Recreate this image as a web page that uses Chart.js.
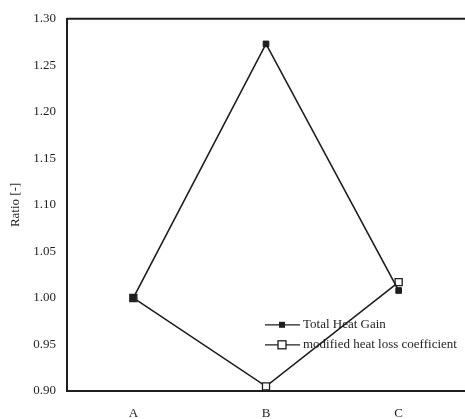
<!DOCTYPE html>
<html><head><meta charset="utf-8">
<script src="https://cdn.jsdelivr.net/npm/chart.js@4/dist/chart.umd.min.js"></script>
<style>html,body{margin:0;padding:0;background:#fff}canvas{display:block}</style>
</head><body>
<canvas id="c" width="465" height="419"></canvas>
<script>
const categories = ["A", "B", "C"];
const totalHeatGain = [1.00, 1.273, 1.008];
const modifiedHeatLoss = [1.00, 0.905, 1.017];
const yTicks = [0.90, 0.95, 1.00, 1.05, 1.10, 1.15, 1.20, 1.25, 1.30];
const seriesLabels = ["Total Heat Gain", "modified heat loss coefficient"];

const FONT = "'Liberation Serif', 'DejaVu Serif', serif";
const INK = "#1e1e1e";

const frame = {
  id: 'frame',
  afterDraw(chart) {
    const {ctx, chartArea: a} = chart;
    ctx.save();
    ctx.strokeStyle = INK;
    ctx.lineWidth = 2;
    ctx.beginPath();
    ctx.moveTo(a.left, a.top); ctx.lineTo(a.right, a.top);
    ctx.stroke();
    // legend
    const ds = chart.data.datasets;
    const lx = a.left + 198, ly0 = a.top + 306;
    ctx.font = "13px " + FONT;
    ctx.textBaseline = 'middle';
    ds.forEach((d, i) => {
      const y = ly0 + i * 20;
      ctx.strokeStyle = INK; ctx.lineWidth = 1.3;
      ctx.beginPath(); ctx.moveTo(lx, y); ctx.lineTo(lx + 35, y); ctx.stroke();
      const s = i === 0 ? 6 : 8;
      const cx = lx + 17;
      if (i === 0) { ctx.fillStyle = INK; ctx.fillRect(cx - s/2, y - s/2, s, s); }
      else { ctx.fillStyle = '#fff'; ctx.fillRect(cx - s/2, y - s/2, s, s); ctx.strokeRect(cx - s/2, y - s/2, s, s); }
      ctx.fillStyle = INK;
      ctx.fillText(d.label, lx + 38, y);
    });
    ctx.restore();
  }
};

new Chart(document.getElementById('c'), {
  type: 'line',
  data: {
    labels: categories,
    datasets: [
      { label: seriesLabels[0], data: totalHeatGain, borderColor: INK, backgroundColor: INK,
        borderWidth: 1.6, pointStyle: 'rect', pointRadius: 4, pointBorderWidth: 1, tension: 0 },
      { label: seriesLabels[1], data: modifiedHeatLoss, borderColor: INK, backgroundColor: '#fff',
        borderWidth: 1.6, pointStyle: 'rect', pointRadius: 5, pointBorderWidth: 1.3, tension: 0 }
    ]
  },
  options: {
    responsive: false,
    animation: false,
    layout: { autoPadding: false, padding: { top: 18, right: 0, left: 0, bottom: 0 } },
    plugins: { legend: { display: false }, tooltip: { enabled: false } },
    scales: {
      x: {
        offset: true,
        grid: { display: false, drawTicks: false },
        border: { display: true, color: INK, width: 2 },
        ticks: { color: INK, font: { family: FONT, size: 13 }, padding: 15 },
        afterFit(s) { s.height = 28; }
      },
      y: {
        min: 0.90, max: 1.30,
        afterBuildTicks(s) { s.ticks = yTicks.map(v => ({ value: v })); },
        grid: { display: false, drawTicks: false },
        border: { display: true, color: INK, width: 2 },
        ticks: { color: INK, font: { family: FONT, size: 13 }, padding: 11,
          callback: v => Number(v).toFixed(2) },
        title: { display: true, text: 'Ratio [-]', color: INK, font: { family: FONT, size: 13 }, padding: { top: 8, bottom: 0 } },
        afterFit(s) { s.width = 67; }
      }
    }
  },
  plugins: [frame]
});
</script>
</body></html>
